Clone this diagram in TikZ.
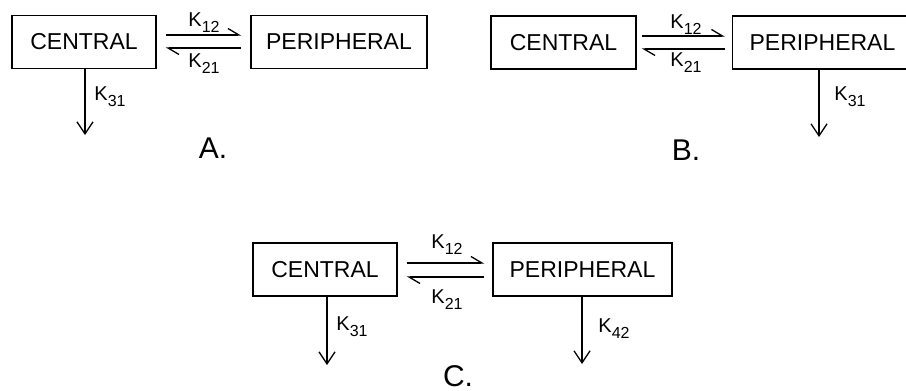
\documentclass[tikz,border=0pt]{standalone}
\usepackage{fontspec}
\setmainfont{Liberation Sans}
\usetikzlibrary{arrows.meta,calc}
\newcommand{\kk}[1]{K\raisebox{-0.3em}{\fontsize{16}{16}\selectfont #1}}
\tikzset{
  comp/.style={draw, line width=1.3pt, minimum height=53pt, inner sep=0pt,
    font=\fontsize{23}{23}\selectfont},
  harp/.style={line width=1.3pt, -{Straight Barb[left,length=11pt,width=13pt,line width=1.3pt]}},
  elim/.style={line width=1.3pt, -{Straight Barb[length=12pt,width=16pt,line width=1.3pt]}},
  klab/.style={inner sep=0pt, font=\fontsize{20}{20}\selectfont},
  panel/.style={inner sep=0pt, font=\fontsize{30}{30}\selectfont}
}
\begin{document}
\begin{tikzpicture}[x=1pt,y=-1pt]
\useasboundingbox (0,0) rectangle (906,391);
% Panel A
\node[comp, minimum width=144pt] (ca) at (84,42) {CENTRAL};
\node[comp, minimum width=176pt] (pa) at (339,42) {PERIPHERAL};
\coordinate (a1) at ([xshift=9pt,yshift=7pt]ca.east);
\coordinate (a2) at ([xshift=-9pt,yshift=-6pt]pa.west);
\draw[harp] (a1) -- (a1 -| a2);
\draw[harp] (a2) -- (a2 -| a1);
\node[klab] (ka12) at (204,23) {\kk{12}};
\node[klab] (ka21) at (204,64) {\kk{21}};
\coordinate (ea) at (85,135);
\draw[elim] (ca.south -| ea) -- (ea);
\node[klab] (ka31) at (110,97) {\kk{31}};
\node[panel] (la) at (213,148) {A.};
% Panel B
\node[comp, minimum width=145pt] (cb) at (563.5,42.5) {CENTRAL};
\node[comp, minimum width=180pt] (pb) at (822.5,42.5) {PERIPHERAL};
\coordinate (b1) at ([xshift=5pt,yshift=6.5pt]cb.east);
\coordinate (b2) at ([xshift=-7pt,yshift=-6.5pt]pb.west);
\draw[harp] (b1) -- (b1 -| b2);
\draw[harp] (b2) -- (b2 -| b1);
\node[klab] (kb12) at (686,25) {\kk{12}};
\node[klab] (kb21) at (686,63) {\kk{21}};
\coordinate (eb) at (819,137);
\draw[elim] (pb.south -| eb) -- (eb);
\node[klab] (kb31) at (850,97) {\kk{31}};
\node[panel] (lb) at (686,150) {B.};
% Panel C
\node[comp, minimum width=144pt] (cc) at (325,269.5) {CENTRAL};
\node[comp, minimum width=179pt] (pc) at (582.5,269.5) {PERIPHERAL};
\coordinate (c1) at ([xshift=9pt,yshift=6.5pt]cc.east);
\coordinate (c2) at ([xshift=-8pt,yshift=-7.5pt]pc.west);
\draw[harp] (c1) -- (c1 -| c2);
\draw[harp] (c2) -- (c2 -| c1);
\node[klab] (kc12) at (447,245) {\kk{12}};
\node[klab] (kc21) at (447,300) {\kk{21}};
\coordinate (ec) at (327,365);
\draw[elim] (cc.south -| ec) -- (ec);
\node[klab] (kc31) at (352,327) {\kk{31}};
\coordinate (ed) at (582,364);
\draw[elim] (pc.south -| ed) -- (ed);
\node[klab] (kc42) at (614,329) {\kk{42}};
\node[panel] (lc) at (458,376) {C.};
\end{tikzpicture}
\end{document}
